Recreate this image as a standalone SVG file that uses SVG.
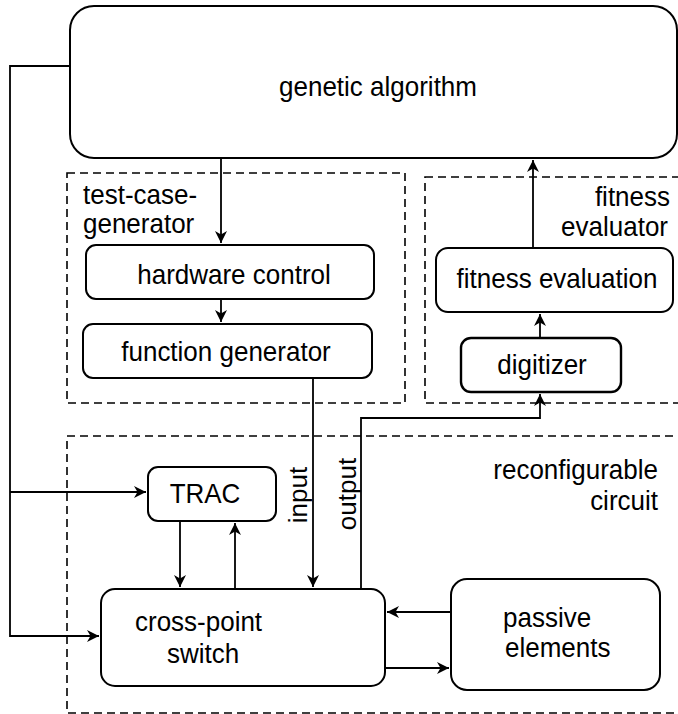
<svg xmlns="http://www.w3.org/2000/svg" width="678" height="714" viewBox="0 0 678 714">
<style>
.box{fill:#fff;stroke:#000;stroke-width:2}
.grp{fill:none;stroke:#000;stroke-width:1.6;stroke-dasharray:8 5}
.t{font-family:"Liberation Sans",Arial,sans-serif;font-size:26px;fill:#000}
.c{text-anchor:middle}
.e{text-anchor:end}
.cn{fill:none;stroke:#000;stroke-width:1.8}
</style>
<defs>
<marker id="ah" markerUnits="userSpaceOnUse" markerWidth="16" markerHeight="16" refX="12" refY="7" orient="auto">
<path d="M0,1 L12,7 L0,13 L3.5,7 z" fill="#000"/>
</marker>
</defs>
<g id="groups">
<rect class="grp" x="67" y="173" width="338" height="230"/>
<rect class="grp" x="425" y="177" width="262" height="226"/>
<rect class="grp" x="67" y="436" width="620" height="277"/>
<text class="t" transform="translate(83,204) scale(1,1.08)">test-case-</text>
<text class="t" transform="translate(83,233) scale(1,1.08)">generator</text>
<text class="t e" transform="translate(670,206) scale(1,1.08)">fitness</text>
<text class="t e" transform="translate(668,236) scale(1,1.08)">evaluator</text>
<text class="t e" transform="translate(658,479) scale(1,1.08)">reconfigurable</text>
<text class="t e" transform="translate(658,510) scale(1,1.08)">circuit</text>
</g>
<g id="connectors">
<polyline class="cn" points="70,66 10,66 10,636 99,636" marker-end="url(#ah)"/>
<polyline class="cn" points="10,492 146,492" marker-end="url(#ah)"/>
<line class="cn" x1="221" y1="158" x2="221" y2="243" marker-end="url(#ah)"/>
<line class="cn" x1="221" y1="299" x2="221" y2="322" marker-end="url(#ah)"/>
<line class="cn" x1="313" y1="378" x2="313" y2="587" marker-end="url(#ah)"/>
<line class="cn" x1="533" y1="248" x2="533" y2="160" marker-end="url(#ah)"/>
<line class="cn" x1="540" y1="338" x2="540" y2="314" marker-end="url(#ah)"/>
<polyline class="cn" points="361,589 361,418 540,418 540,394" marker-end="url(#ah)"/>
<line class="cn" x1="180" y1="521" x2="180" y2="587" marker-end="url(#ah)"/>
<line class="cn" x1="235" y1="589" x2="235" y2="523" marker-end="url(#ah)"/>
<line class="cn" x1="451" y1="612" x2="387" y2="612" marker-end="url(#ah)"/>
<line class="cn" x1="385" y1="668" x2="449" y2="668" marker-end="url(#ah)"/>
<text class="t c" transform="translate(307,495) rotate(-90)">input</text>
<text class="t c" transform="translate(356,494) rotate(-90)">output</text>
</g>
<g id="ga">
<rect class="box" x="70" y="6" width="607" height="152" rx="24"/>
<text class="t c" transform="translate(378,96) scale(1,1.08)">genetic algorithm</text>
</g>
<g id="hardware">
<rect class="box" x="86" y="245" width="288" height="54" rx="10"/>
<text class="t c" transform="translate(234,284) scale(1,1.08)">hardware control</text>
</g>
<g id="function">
<rect class="box" x="83" y="324" width="289" height="54" rx="10"/>
<text class="t c" transform="translate(226,361) scale(1,1.08)">function generator</text>
</g>
<g id="fitness">
<rect class="box" x="436" y="248" width="237" height="64" rx="12"/>
<text class="t c" transform="translate(557,288) scale(1,1.08)">fitness evaluation</text>
</g>
<g id="digitizer">
<rect class="box" x="461" y="338" width="160" height="54" rx="10" style="stroke-width:2.4"/>
<text class="t c" transform="translate(542,374) scale(1,1.08)">digitizer</text>
</g>
<g id="trac">
<rect class="box" x="148" y="467" width="128" height="54" rx="10"/>
<text class="t c" transform="translate(205,503) scale(1,1.08)">TRAC</text>
</g>
<g id="switch">
<rect class="box" x="101" y="589" width="284" height="97" rx="14"/>
<text class="t" transform="translate(135,631) scale(1,1.08)">cross-point</text>
<text class="t" transform="translate(167,663) scale(1,1.08)">switch</text>
</g>
<g id="passive">
<rect class="box" x="451" y="579" width="209" height="111" rx="16"/>
<text class="t" transform="translate(503,627) scale(1,1.08)">passive</text>
<text class="t" transform="translate(505,657) scale(1,1.08)">elements</text>
</g>
</svg>
